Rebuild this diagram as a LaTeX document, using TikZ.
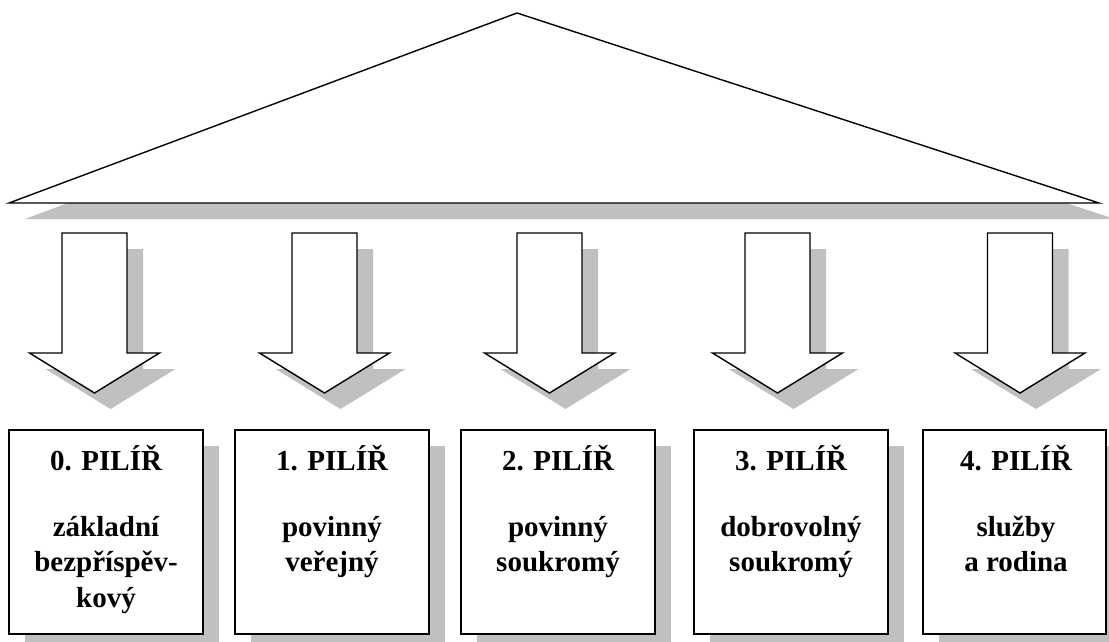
\documentclass[tikz,border=0pt]{standalone}
\usepackage{fontspec}
\setmainfont{Liberation Serif}
\usetikzlibrary{shadows}
\definecolor{shadowgray}{HTML}{C0C0C0}
\tikzset{
  outline/.style={draw=black, line width=1.4pt, fill=white, line join=miter},
  shadowfill/.style={fill=shadowgray, draw=none},
  pbox/.style={outline, rectangle, minimum height=204pt, inner sep=0pt,
    general shadow={shadowfill, shadow xshift=16pt, shadow yshift=-16pt}},
  ptitle/.style={anchor=base, font=\fontsize{29}{35.5}\selectfont\bfseries, inner sep=0pt},
  pdesc/.style={anchor=base, align=center, font=\fontsize{29}{35.5}\selectfont\bfseries, inner sep=0pt}
}
\begin{document}
\begin{tikzpicture}[x=1pt, y=-1pt]
\useasboundingbox (0,0) rectangle (1109,642);
% roof
\fill[shadowfill] (25,219) -- (533,29) -- (1115,219) -- cycle;
\draw[outline] (9,203) -- (517,13) -- (1099,203) -- cycle;
% arrows
\foreach \c in {94.5, 324.5, 549.5, 777.5, 1020} {
  \fill[shadowfill, shift={(16,16)}] (\c-32.5,233) -- (\c+32.5,233) -- (\c+32.5,353) -- (\c+65,353) -- (\c,393) -- (\c-65,353) -- (\c-32.5,353) -- cycle;
  \draw[outline] (\c-32.5,233) -- (\c+32.5,233) -- (\c+32.5,353) -- (\c+65,353) -- (\c,393) -- (\c-65,353) -- (\c-32.5,353) -- cycle;
}
% boxes
\node[pbox, minimum width=194pt] (b0) at (106,532) {};
\node[pbox, minimum width=194pt] (b1) at (332,532) {};
\node[pbox, minimum width=194pt] (b2) at (558,532) {};
\node[pbox, minimum width=194pt] (b3) at (791,532) {};
\node[pbox, minimum width=183pt] (b4) at (1014.5,532) {};
% titles
\node[ptitle] (t0) at (106,470) {0. PILÍŘ};
\node[ptitle] (t1) at (332,470) {1. PILÍŘ};
\node[ptitle] (t2) at (558,470) {2. PILÍŘ};
\node[ptitle] (t3) at (791,470) {3. PILÍŘ};
\node[ptitle] (t4) at (1016,470) {4. PILÍŘ};
% descriptions (base = last line)
\node[pdesc] (d0) at (106,607) {základní\\bezpříspěv-\\kový};
\node[pdesc] (d1) at (332,571.5) {povinný\\veřejný};
\node[pdesc] (d2) at (558,571.5) {povinný\\soukromý};
\node[pdesc] (d3) at (791,571.5) {dobrovolný\\soukromý};
\node[pdesc] (d4) at (1016,571.5) {služby\\a rodina};
\end{tikzpicture}
\end{document}
